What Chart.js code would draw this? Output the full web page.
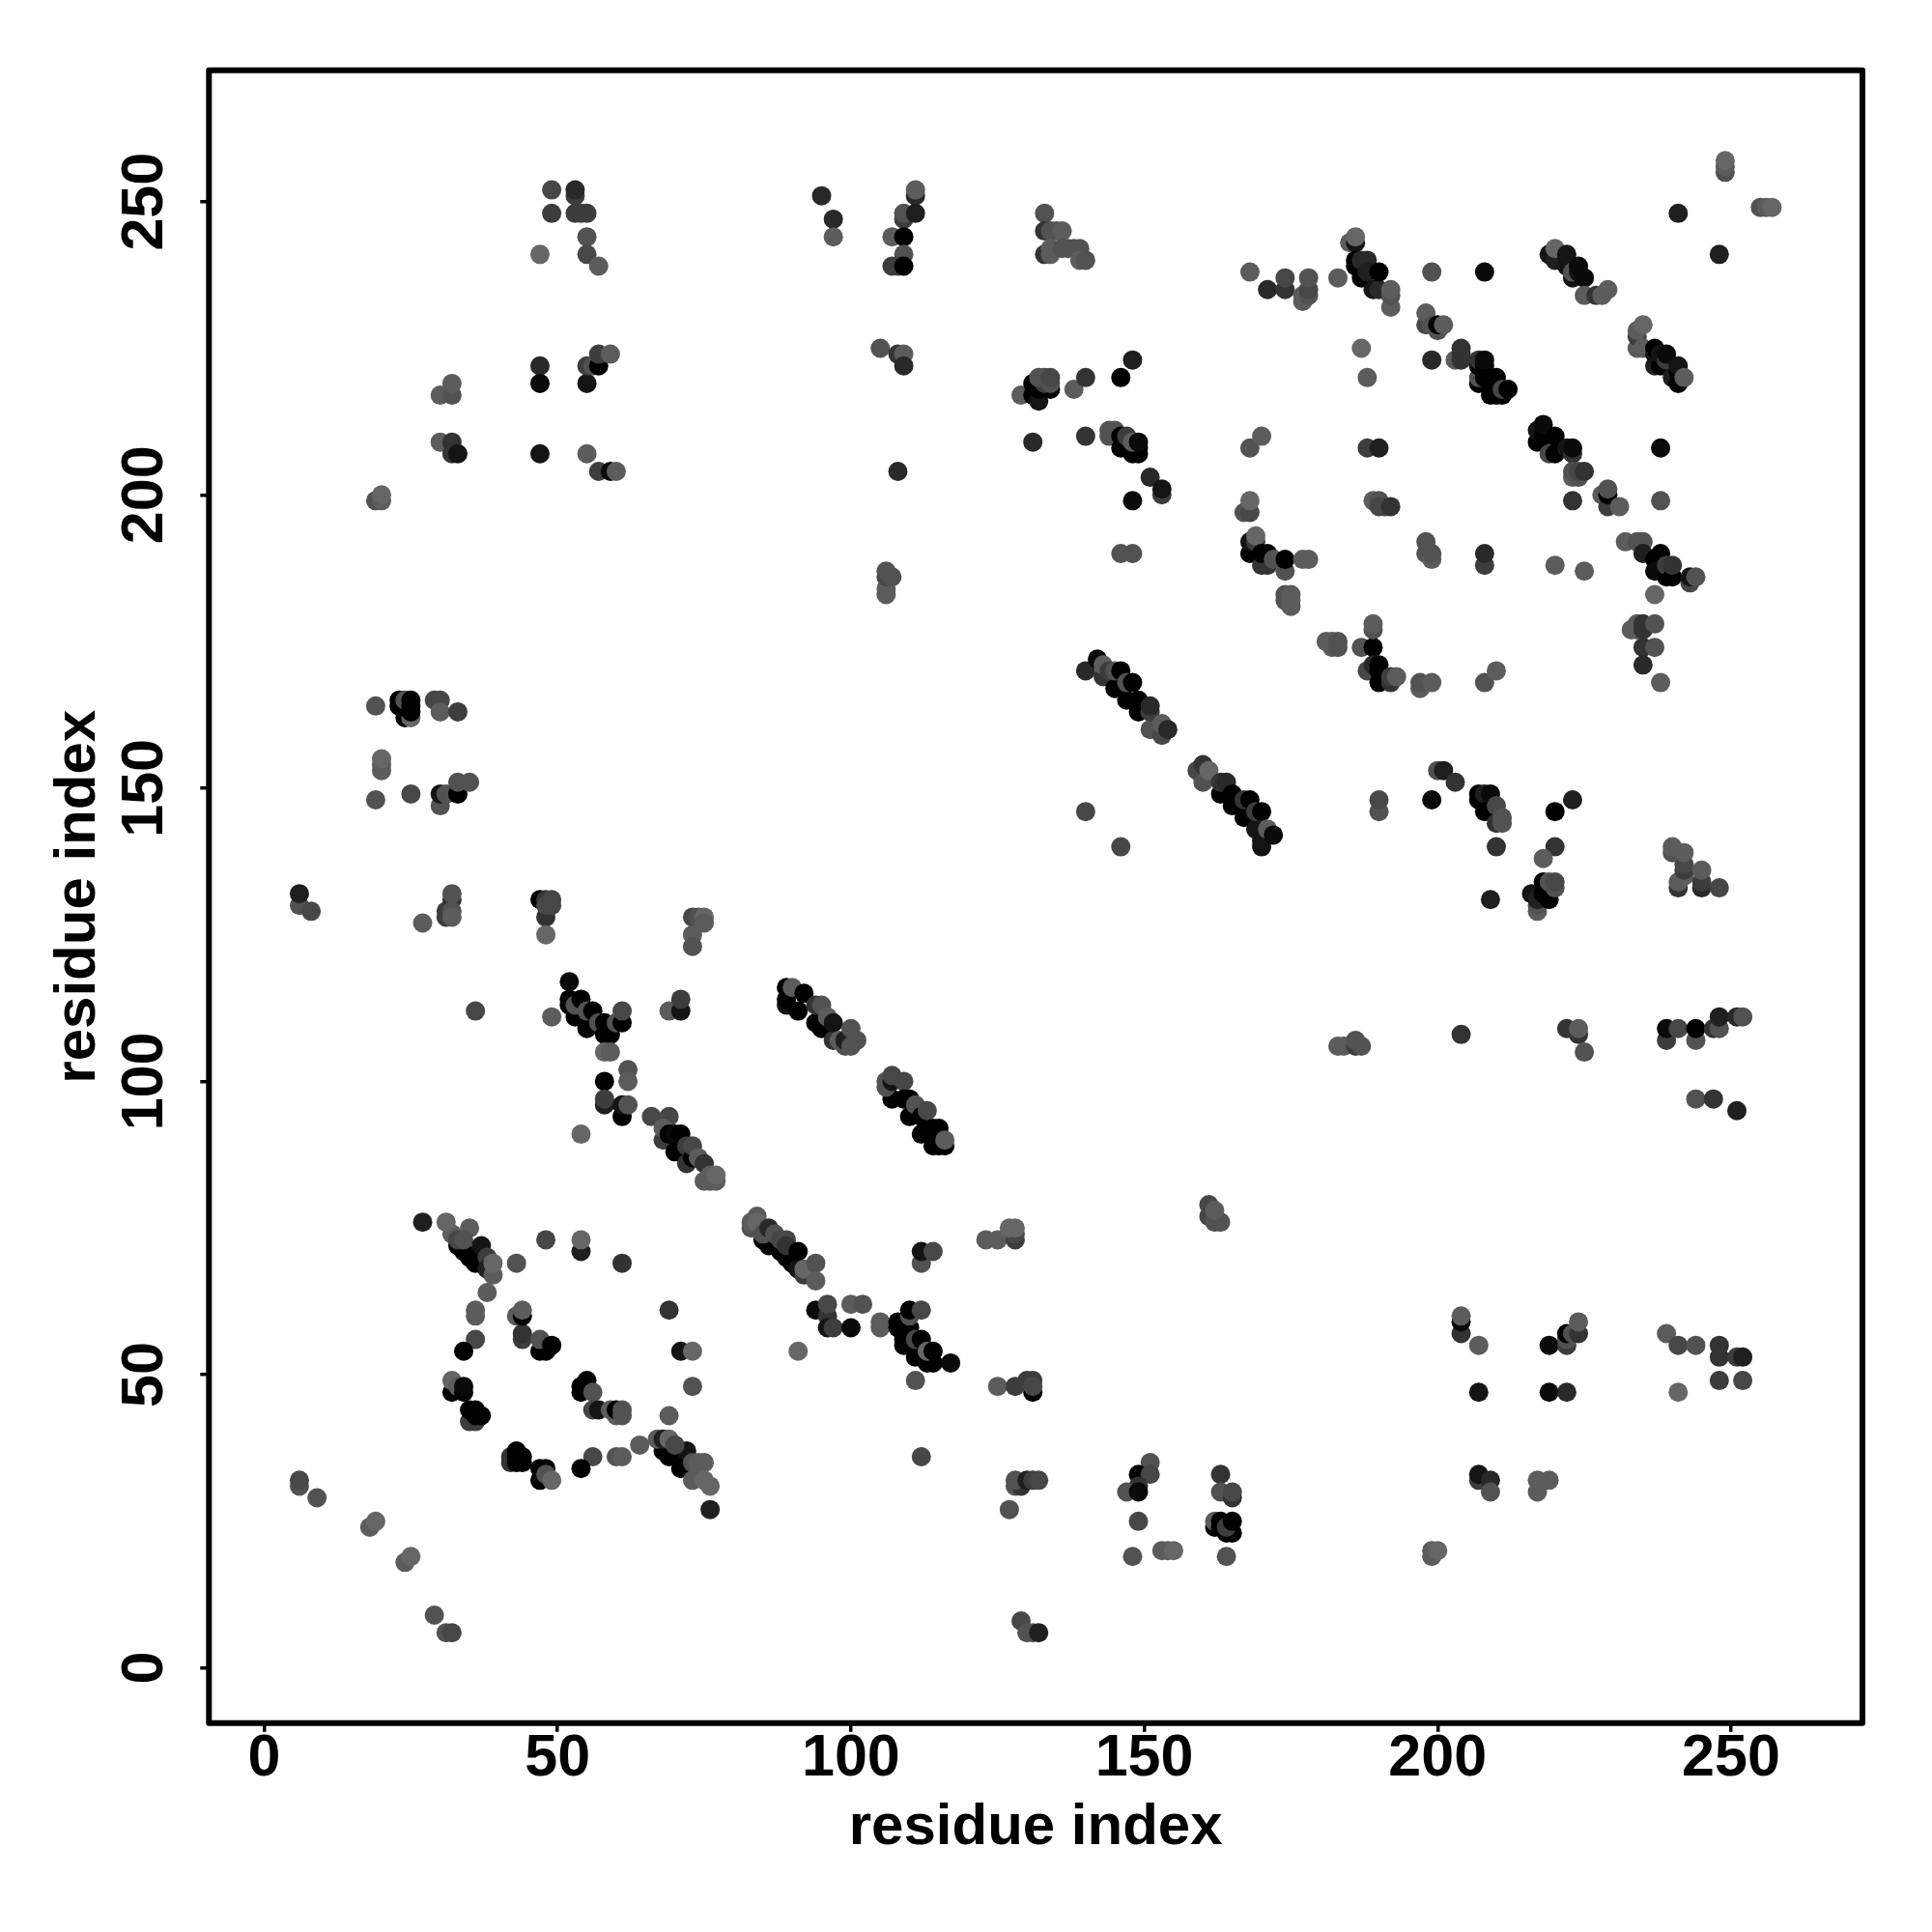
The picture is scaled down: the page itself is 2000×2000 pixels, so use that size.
<!DOCTYPE html>
<html>
<head>
<meta charset="utf-8">
<title>residue contacts</title>
<script src="https://cdn.jsdelivr.net/npm/chart.js@4/dist/chart.umd.min.js"></script>
<style>
  html, body { margin: 0; background: #fff; }
  canvas { display: block; }
</style>
</head>
<body>
<canvas id="contactMap" width="2000" height="2000"></canvas>
<script>
const axisTitle = 'residue index';
const tickValues = [0, 50, 100, 150, 200, 250];

// one line per group of contacts, same order in all three lists
const residueX = [
  33,34,35,36,27,32,31,35,33,34,37,38,38,39,39,43,38,
  48,54,54,61,36,36,36,34,
  43,44,44,44,44,47,48,47,49,
  71,73,73,69,69,
  32,32,33,34,34,35,36,35,36,36,37,
  54,54,55,56,56,57,59,60,60,61,61,
  68,69,70,71,72,72,67,68,69,70,73,74,75,73,74,75,76,76,64,
  56,54,60,61,
  42,42,43,43,44,44,43,
  47,48,47,48,49,
  6,6,9,18,19,24,25,29,31,32,
  85,86,87,88,89,90,90,91,83,83,84,84,85,86,87,88,89,89,91,92,92,94,94,
  94,96,96,96,97,100,100,102,91,
  105,105,108,108,109,110,109,109,111,111,112,113,114,113,114,117,111,110,110,112,112,112,114,112,
  123,125,128,128,127,128,
  125,128,131,130,131,131,
  127,128,129,128,130,131,132,
  129,130,131,132,
  161,161,162,163,162,
  151,149,151,149,147,149,149,148,153,154,155,
  163,163,165,165,162,162,163,163,164,165,164,165,164,
  204,204,204,207,219,222,222,222,223,224,224,
  239,241,244,248,248,251,252,248,252,241,207,219,222,
  207,207,209,209,217,217,219,199,199,200,
  19,23,23,24,24,25,25,25,25,29,30,30,33,
  20,20,20,19,25,30,30,31,33,33,35,
  6,6,8,27,31,31,32,32,32,32,
  47,48,48,49,48,49,48,
  73,74,75,75,73,73,
  52,52,52,53,53,54,55,55,56,57,58,58,59,60,61,61,58,59,62,62,58,58,58,61,61,62,36,49,69,71,71,54,66,69,
  68,68,69,70,70,71,72,72,73,73,74,75,75,76,76,77,77,
  89,89,89,90,91,92,94,94,95,95,96,97,97,98,99,99,100,100,101,
  107,106,106,107,107,109,109,110,110,111,112,113,112,114,115,114,115,116,116,
  140,142,143,143,144,145,145,146,147,147,148,149,149,151,151,151,153,153,154,
  159,160,160,161,163,163,164,165,165,167,167,168,169,169,170,170,170,171,172,140,146,
  200,201,203,199,207,207,208,209,208,210,210,211,211,210,223,220,220,218,
  209,216,217,217,217,218,219,218,219,220,220,
  190,190,
  240,240,241,241,242,242,242,242,245,245,245,248,
  183,184,186,186,187,204,222,224,224,225,
  239,239,241,244,244,247,248,248,251,252,244,247,251,
  181,182,182,183,183,187,189,189,189,
  188,189,190,190,190,192,192,193,197,197,199,208,210,
  174,174,175,175,175,
  233,234,234,235,235,237,235,237,235,238,237,
  49,53,53,49,53,54,55,55,47,55,57,
  47,47,55,55,56,57,57,59,
  30,32,32,30,32,32,33,47,55,57,59,60,
  19,20,20,
  95,97,97,111,111,109,109,111,107,109,109,107,108,109,
  133,133,134,135,136,133,134,134,136,137,138,139,139,140,
  105,108,109,109,
  129,131,131,132,132,134,133,134,132,133,134,138,140,146,148,
  131,140,144,144,145,146,146,147,148,149,149,148,149,
  151,153,153,148,108,106,106,106,106,107,146,148,
  168,171,174,174,177,177,178,178,178,183,
  168,170,167,168,168,
  168,168,169,169,170,171,170,171,172,174,174,177,178,
  249,249,249,255,256,257,241,248,
  185,186,186,186,186,187,188,187,188,189,190,190,192,192,192,199,208,
  187,188,
  198,198,199,200,200,201,199,
  203,204,204,204,
  207,207,207,207,208,208,208,209,209,210,210,211,211,212,
  217,217,218,218,219,220,220,222,223,223,223,223,224,224,225,
  228,229,229,229,231,223,238,
  219,220,220,222,222,223,223,224,224,225,225,227,228,229,
  234,234,234,235,235,237,237,237,238,238,239,239,240,241,241,241,242,
  238,188,190,
  189,190,190,191,192,
  198,198,199,199,208,208,220,225,
  232,234,235,235,237,237,238,239,239,240,240,243,243,244
];

const residueY = [
  72,71,70,69,76,74,76,75,73,73,72,70,68,67,69,69,64,
  73,71,73,69,60,61,56,54,
  60,56,57,60,61,54,54,56,55,
  54,54,48,61,43,
  47,49,48,47,48,42,42,44,44,43,43,
  47,48,49,47,44,44,44,43,44,43,44,
  37,36,37,34,35,37,39,39,39,38,35,35,35,32,33,32,31,27,38,
  36,34,36,36,
  36,35,35,37,36,35,36,
  34,34,32,33,32,
  31,32,29,24,25,18,19,9,6,6,
  73,72,72,71,70,69,71,68,75,76,77,76,74,75,74,73,73,72,71,67,68,69,66,
  61,60,62,58,58,58,62,62,54,
  58,59,58,59,59,58,56,55,53,56,56,52,52,54,54,52,49,60,61,61,69,71,71,36,
  73,73,73,74,75,75,
  48,48,47,49,49,48,
  27,31,31,32,32,32,32,
  8,6,6,6,
  77,79,76,76,78,
  35,33,33,31,30,30,25,19,20,20,20,
  33,30,29,30,24,25,24,25,23,23,24,25,19,
  57,59,60,55,55,55,56,57,57,57,59,
  57,55,55,55,53,53,53,49,49,47,47,47,47,
  32,33,32,30,30,32,32,19,20,20,
  164,164,165,162,165,162,163,164,165,165,165,163,163,
  153,154,155,148,149,147,149,149,149,151,151,
  130,132,129,127,129,128,131,132,129,128,
  131,128,131,131,130,130,125,
  128,128,128,127,125,123,
  117,113,114,111,113,114,109,112,112,110,108,110,108,110,110,112,105,105,102,100,100,96,97,94,96,96,112,111,112,112,114,91,94,94,
  90,92,91,88,91,91,86,89,87,89,87,86,83,83,84,83,84,
  113,114,116,116,112,115,110,113,109,113,111,107,110,107,106,107,106,109,107,
  97,99,100,100,101,100,97,97,94,96,94,95,91,92,92,89,89,89,90,
  170,172,169,171,170,167,170,170,165,168,168,163,165,160,163,164,159,161,160,
  153,154,151,153,149,151,151,147,149,145,148,148,143,146,146,140,141,143,142,146,140,
  153,153,151,148,148,149,149,149,146,147,144,144,145,140,148,146,140,138,
  131,132,129,130,131,132,131,134,134,133,134,
  146,148,
  139,140,133,134,135,136,137,139,133,134,136,133,
  106,106,106,107,106,108,109,108,109,105,
  107,109,109,107,109,109,109,111,111,111,97,97,95,
  175,174,175,174,175,174,174,177,178,
  170,171,170,171,168,168,169,169,167,168,168,168,170,
  182,183,183,181,182,
  177,177,178,177,178,178,174,174,171,168,183,
  252,251,252,248,248,248,248,244,241,241,239,
  222,219,219,222,222,222,224,224,
  217,217,219,209,207,209,207,207,207,204,204,204,
  199,199,200,
  251,247,244,251,252,247,248,248,244,244,241,239,239,239,
  248,245,245,245,245,241,241,242,242,242,242,242,240,240,
  225,224,224,222,
  217,217,219,216,218,218,219,219,220,220,220,218,220,220,223,
  209,210,210,211,211,208,210,210,207,207,208,209,209,
  203,200,201,199,204,183,184,186,187,186,190,190,
  238,235,235,237,233,234,234,235,237,237,
  208,210,197,197,199,
  190,192,192,193,188,188,190,190,189,187,189,189,189,
  255,256,257,249,249,249,248,241,
  243,243,244,239,240,240,240,237,238,235,235,238,232,234,235,238,238,
  225,220,
  229,231,229,228,229,229,223,
  223,223,224,225,
  219,220,222,223,220,222,223,217,219,217,220,217,218,218,
  209,211,210,212,207,207,210,208,207,208,203,204,203,204,204,
  200,198,200,201,198,199,199,
  241,240,242,239,241,237,238,238,239,237,234,234,234,235,
  225,227,228,225,229,222,224,225,222,224,223,224,220,219,221,222,220,
  208,208,208,
  199,199,198,198,198,
  190,192,189,190,188,190,188,187,
  192,192,192,190,189,187,190,186,188,186,188,185,186,186
];

// contact strength 0-10, shown as grey (10 = black)
const strength = [
  10,10,10,10,7,1,0,1,3,2,8,4,7,1,0,2,1,
  3,7,0,5,1,1,3,10,
  1,4,5,10,1,10,10,2,10,
  8,0,2,5,1,
  10,0,1,10,9,4,4,10,10,10,10,
  10,10,10,2,3,8,1,1,10,2,2,
  10,10,10,10,10,8,1,7,0,3,2,1,1,1,1,0,0,7,1,
  3,10,2,1,
  5,5,10,10,10,10,10,
  10,10,10,2,0,
  2,3,2,1,0,1,0,2,2,3,
  10,10,10,10,10,10,10,8,2,1,1,0,2,6,2,3,3,5,10,4,0,2,1,
  9,5,3,8,4,9,1,2,0,
  1,1,10,10,10,10,10,10,10,3,10,10,10,0,10,9,2,2,10,3,2,8,3,3,
  1,1,4,3,0,0,
  1,4,10,4,4,3,
  2,2,5,2,7,4,3,
  3,2,2,7,
  3,3,2,2,1,
  2,10,3,5,2,9,3,2,1,1,0,
  5,2,5,3,10,1,10,10,10,10,4,10,2,
  5,9,1,1,9,4,2,10,2,5,1,
  1,3,2,5,5,4,7,4,3,0,8,9,6,
  4,8,6,2,1,1,1,1,1,0,
  2,10,10,10,2,0,10,10,10,3,3,1,4,
  1,1,0,2,3,2,8,2,10,2,2,
  2,7,3,1,4,4,5,2,2,1,
  10,5,5,3,3,3,0,
  3,2,0,1,1,2,
  9,10,10,10,2,10,10,2,10,2,10,10,10,2,10,3,0,1,2,1,10,7,4,10,8,2,3,1,1,8,4,0,3,3,
  4,1,10,10,9,10,5,4,10,3,1,5,1,1,1,1,0,
  8,10,10,1,10,10,10,5,10,2,1,5,8,1,2,7,2,2,2,
  10,2,2,8,3,3,10,10,10,2,10,3,10,10,10,10,10,10,1,
  6,9,5,1,4,10,2,10,10,2,10,10,10,2,4,6,3,1,6,
  3,5,2,0,10,5,6,10,10,10,5,10,8,4,10,8,8,1,9,3,3,
  2,7,5,9,10,10,7,9,10,3,5,2,2,5,7,10,5,1,
  7,8,1,2,7,10,10,10,2,2,3,
  2,3,
  2,1,5,1,1,4,3,1,6,4,1,3,
  1,1,4,2,2,5,5,5,1,2,
  4,9,3,2,10,5,2,7,6,2,2,5,7,
  1,1,1,2,2,2,10,2,1,
  3,6,10,10,10,5,4,1,1,2,1,2,1,
  2,2,1,1,1,
  1,1,1,5,5,2,5,2,6,1,0,
  3,4,6,4,4,4,4,2,0,3,1,
  6,9,8,4,2,10,4,1,
  1,2,1,1,5,5,8,8,1,4,9,1,
  2,1,0,
  6,6,1,6,1,4,2,7,1,10,2,4,4,10,
  2,5,2,2,1,5,1,1,2,2,2,2,1,2,
  2,5,1,6,
  1,10,10,8,10,10,4,2,2,2,3,1,5,10,7,
  6,5,2,2,2,10,10,4,10,10,10,1,9,
  6,4,8,9,6,1,1,3,2,2,2,2,
  1,6,5,3,1,1,2,3,2,1,
  2,1,2,3,0,
  10,8,4,0,5,5,10,10,2,2,10,1,1,
  2,1,0,2,1,0,7,7,
  1,8,0,10,10,6,6,10,7,8,6,10,1,2,1,2,9,
  0,1,
  3,1,2,2,10,1,6,
  1,5,5,5,
  10,2,10,5,10,10,9,10,10,10,10,10,3,10,
  10,8,10,9,3,10,10,8,5,9,1,2,2,3,5,
  1,4,10,2,1,5,2,
  8,7,0,8,8,8,2,8,9,9,1,5,1,1,
  1,4,1,1,0,7,8,10,10,8,4,9,7,10,10,8,1,
  9,4,7,
  1,2,3,3,5,
  2,2,1,2,4,6,1,1,
  1,2,2,7,10,9,10,10,4,10,5,3,8,2
];

const pointColor = strength.map(s => {
  const g = Math.round(102 * (1 - s / 10));
  return 'rgb(' + g + ',' + g + ',' + g + ')';
});

// frame round the plot, the scales only give one side each
const framePlugin = {
  id: 'frame',
  afterDatasetsDraw(chart) {
    const { ctx, chartArea: a } = chart;
    ctx.save();
    ctx.strokeStyle = '#000';
    ctx.lineWidth = 6;
    ctx.lineJoin = 'round';
    ctx.strokeRect(a.left, a.top, a.right - a.left, a.bottom - a.top);
    ctx.restore();
  }
};

const tickFont = { family: '"Liberation Sans"', size: 61, weight: 'bold', lineHeight: 1 };
const titleFont = { family: '"Liberation Sans"', size: 60, weight: 'bold', lineHeight: 1 };

new Chart(document.getElementById('contactMap'), {
  type: 'scatter',
  data: {
    datasets: [{
      label: 'contacts',
      data: residueX.map((x, i) => ({ x: x, y: residueY[i] })),
      pointRadius: 10,
      pointBorderWidth: 0,
      pointBackgroundColor: pointColor
    }]
  },
  options: {
    responsive: false,
    animation: false,
    layout: { padding: { left: 0, top: 72.7, right: 72, bottom: 0 } },
    plugins: { legend: { display: false }, tooltip: { enabled: false } },
    scales: {
      x: {
        type: 'linear',
        min: -9.42,
        max: 272.4,
        afterBuildTicks: s => { s.ticks = tickValues.map(v => ({ value: v })); },
        afterFit: s => { s.height = 216.2; },
        border: { display: false },
        grid: { drawOnChartArea: false, color: '#000', lineWidth: 3.5, tickLength: 9 },
        ticks: { color: '#000', font: tickFont, padding: -2, maxRotation: 0, autoSkip: false },
        title: { display: true, text: axisTitle, color: '#000', font: titleFont, padding: { bottom: 78 } }
      },
      y: {
        type: 'linear',
        min: -9.42,
        max: 272.4,
        afterBuildTicks: s => { s.ticks = tickValues.map(v => ({ value: v })); },
        afterFit: s => { s.width = 216.3; },
        border: { display: false },
        grid: { drawOnChartArea: false, color: '#000', lineWidth: 3.5, tickLength: 9 },
        ticks: { color: '#000', font: tickFont, padding: 5, minRotation: 90, maxRotation: 90, crossAlign: 'center', autoSkip: false },
        title: { display: true, text: axisTitle, color: '#000', font: titleFont, padding: { top: 51 } }
      }
    }
  },
  plugins: [framePlugin]
});
</script>
</body>
</html>
